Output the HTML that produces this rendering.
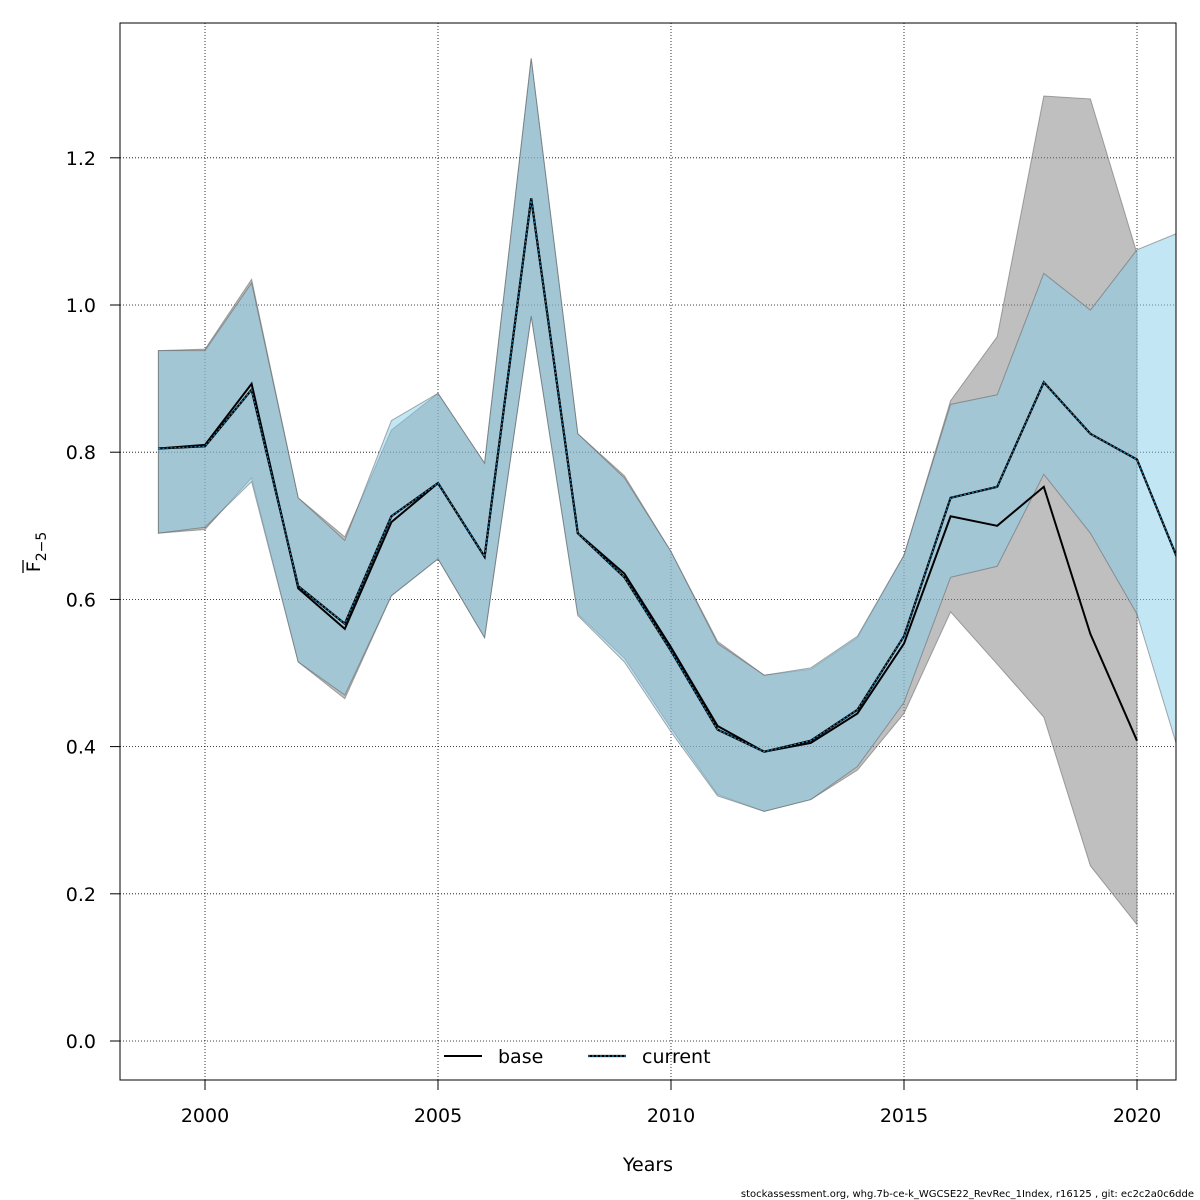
<!DOCTYPE html>
<html><head><meta charset="utf-8"><style>
body{margin:0;background:#fff;font-family:"Liberation Sans","DejaVu Sans",sans-serif;overflow:hidden}
svg text{font-family:"DejaVu Sans","Liberation Sans",sans-serif}
</style></head><body>
<svg id="chart" width="1200" height="1200" xmlns="http://www.w3.org/2000/svg" style="display:block">
<defs><clipPath id="clip"><rect x="120" y="23" width="1056" height="1057"/></clipPath></defs>
<rect width="1200" height="1200" fill="#fff"/>
<g id="grid"></g><g id="bands" clip-path="url(#clip)"></g><g id="lines" clip-path="url(#clip)"></g><g id="axes"></g>
</svg>
<script>
const years=[1999,2000,2001,2002,2003,2004,2005,2006,2007,2008,2009,2010,2011,2012,2013,2014,2015,2016,2017,2018,2019,2020];
const baseF=[0.805,0.81,0.893,0.615,0.56,0.705,0.758,0.658,1.145,0.69,0.635,0.535,0.428,0.393,0.405,0.445,0.54,0.713,0.70,0.753,0.553,0.408];
const baseHi=[0.938,0.94,1.035,0.738,0.685,0.83,0.88,0.785,1.335,0.825,0.768,0.665,0.543,0.497,0.505,0.548,0.66,0.87,0.957,1.284,1.28,1.07];
const baseLo=[0.69,0.695,0.765,0.515,0.465,0.605,0.655,0.548,0.985,0.58,0.52,0.425,0.335,0.312,0.328,0.368,0.445,0.583,0.512,0.44,0.238,0.158];
const curYears=[1999,2000,2001,2002,2003,2004,2005,2006,2007,2008,2009,2010,2011,2012,2013,2014,2015,2016,2017,2018,2019,2020,2021];
const curF=[0.805,0.808,0.885,0.618,0.567,0.713,0.758,0.658,1.145,0.69,0.63,0.53,0.423,0.393,0.408,0.45,0.55,0.738,0.753,0.895,0.825,0.79,0.635];
const curHi=[0.938,0.938,1.03,0.738,0.68,0.843,0.88,0.785,1.335,0.825,0.765,0.665,0.54,0.497,0.507,0.55,0.66,0.865,0.878,1.043,0.993,1.075,1.101];
const curLo=[0.69,0.698,0.76,0.515,0.47,0.605,0.655,0.548,0.985,0.578,0.515,0.42,0.333,0.312,0.328,0.373,0.46,0.63,0.645,0.77,0.69,0.58,0.371];
const xTicks=[2000,2005,2010,2015,2020];
const yTicks=[0,0.2,0.4,0.6,0.8,1.0,1.2];
const NS="http://www.w3.org/2000/svg";
const X=y=>205+(y-2000)*46.6;
const Y=v=>1041-v*736;
function mk(tag,attrs,parent){const e=document.createElementNS(NS,tag);for(const k in attrs)e.setAttribute(k,attrs[k]);document.getElementById(parent).appendChild(e);return e;}
const grid="grid";
xTicks.forEach(t=>{const l=mk('line',{x1:X(t),x2:X(t),y1:23,y2:1080,stroke:'#000','stroke-width':0.8,'stroke-dasharray':'1,2'},grid);

});
yTicks.forEach(t=>{const l=mk('line',{x1:120,x2:1176,y1:Y(t),y2:Y(t),stroke:'#000','stroke-width':0.8,'stroke-dasharray':'1,2'},grid);

});
function band(xs,hi,lo,fill,name){let d='M'+xs.map((y,i)=>X(y)+','+Y(hi[i])).join('L');
for(let i=xs.length-1;i>=0;i--)d+='L'+X(xs[i])+','+Y(lo[i]);d+='Z';
const p=mk('path',{d:d,fill:fill,stroke:'rgba(90,90,90,0.5)','stroke-width':1},'bands');

}
band(years,baseHi,baseLo,'rgba(128,128,128,0.5)','base-ci-band');
band(curYears,curHi,curLo,'rgba(135,206,235,0.5)','current-ci-band');
function line(xs,vs,attrs,name){const p=mk('polyline',Object.assign({points:xs.map((y,i)=>X(y)+','+Y(vs[i])).join(' '),fill:'none'},attrs),'lines');

}
line(years,baseF,{stroke:'#000','stroke-width':2},'base-line');
line(curYears,curF,{stroke:'#000','stroke-width':2.2},'current-line-bg');
line(curYears,curF,{stroke:'#1e7fb0','stroke-width':1.2,'stroke-dasharray':'2,2'},'current-line');
const ax="axes";
const box=mk('rect',{x:120,y:23,width:1056,height:1057,fill:'none',stroke:'#000','stroke-width':1},ax);


xTicks.forEach(t=>{mk('line',{x1:X(t),x2:X(t),y1:1080,y2:1090,stroke:'#000'},ax);
const tx=mk('text',{x:X(t),y:1122,'text-anchor':'middle','font-size':19},ax);tx.textContent=t;

});
yTicks.forEach(t=>{mk('line',{x1:110,x2:120,y1:Y(t),y2:Y(t),stroke:'#000'},ax);
const tx=mk('text',{x:96,y:Y(t)+7,'text-anchor':'end','font-size':19},ax);tx.textContent=t.toFixed(1);

});
</script>
<svg style="position:absolute;left:0;top:0" width="1200" height="1200" xmlns="http://www.w3.org/2000/svg">
<text x="648" y="1171" text-anchor="middle" font-size="19">Years</text>
<g transform="translate(40,552) rotate(-90)">
<text x="0" y="0" text-anchor="middle" font-size="19">F<tspan font-size="14" dy="6">2−5</tspan></text>
<line x1="-21" x2="-8" y1="-17" y2="-17" stroke="#000" stroke-width="1.3"/>
</g>
<g>
<line x1="444" x2="482" y1="1056" y2="1056" stroke="#000" stroke-width="2"/>
<text x="498" y="1063" font-size="19">base</text>
<line x1="588" x2="626" y1="1056" y2="1056" stroke="#000" stroke-width="2.2"/>
<line x1="588" x2="626" y1="1056" y2="1056" stroke="#1e7fb0" stroke-width="1.2" stroke-dasharray="2,2"/>
<text x="642" y="1063" font-size="19">current</text>
</g>
<text x="1194" y="1197" text-anchor="end" font-size="10">stockassessment.org, whg.7b-ce-k_WGCSE22_RevRec_1Index, r16125 , git: ec2c2a0c6dde</text>
</svg>
</body></html>
